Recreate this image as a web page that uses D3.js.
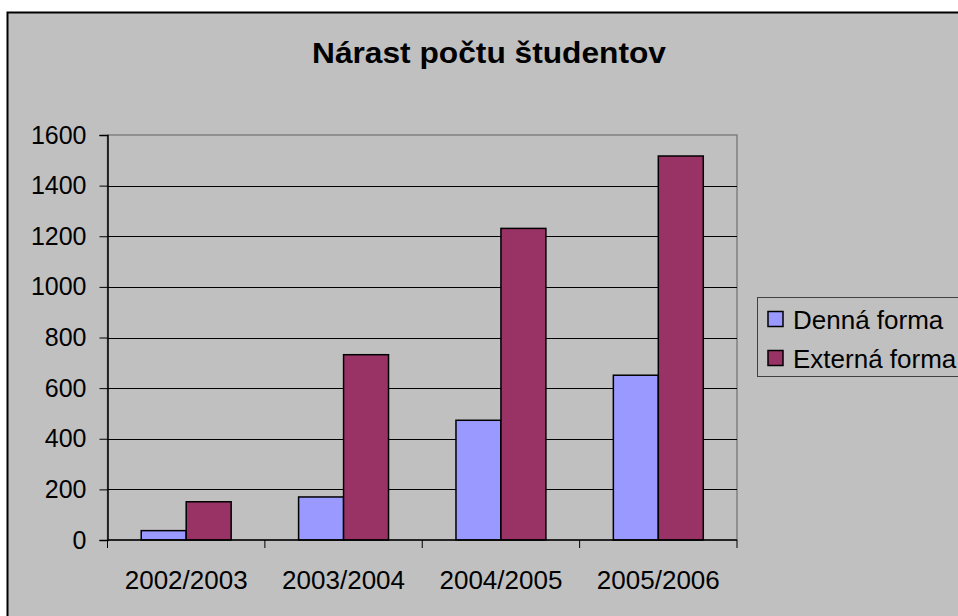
<!DOCTYPE html>
<html>
<head>
<meta charset="utf-8">
<script src="https://cdn.jsdelivr.net/npm/d3@7"></script>
<style>
  body { margin: 0; background: #fff; }
  svg { display: block; font-family: Arial, "Liberation Sans", sans-serif; }
</style>
</head>
<body>
<svg></svg>
<script>
// data
const years = ['2002/2003', '2003/2004', '2004/2005', '2005/2006']
const series = ['Denná forma', 'Externá forma']
const denna = [37, 170, 473, 651]
const externa = [151, 732, 1231, 1517]
const yTicks = [0, 200, 400, 600, 800, 1000, 1200, 1400, 1600]
const colors = ['#9999FF', '#993366']

const width = 958
const height = 616

const svg = d3.select('svg')
    .attr('width', width)
    .attr('height', height)

// chart area with black border (runs off right and bottom)
svg.append('rect')
    .attr('x', 7.5)
    .attr('y', 12.5)
    .attr('width', 1000)
    .attr('height', 700)
    .attr('fill', '#C0C0C0')
    .attr('stroke', '#000')
    .attr('stroke-width', 2)

svg.append('text')
    .attr('x', 489)
    .attr('y', 63)
    .attr('text-anchor', 'middle')
    .attr('font-size', 29)
    .attr('font-weight', 'bold')
    .attr('textLength', 354)
    .attr('lengthAdjust', 'spacingAndGlyphs')
    .text('Nárast počtu študentov')

const plot = { left: 107.5, right: 737, top: 135, bottom: 540 }

const x = d3.scaleBand()
    .domain(years)
    .range([plot.left, plot.right])
    .paddingInner(0)

const x1 = d3.scaleBand()
    .domain(series)
    .range([0, x.bandwidth()])
    .paddingOuter(0.75)
    .paddingInner(0)

const y = d3.scaleLinear()
    .domain([0, 1600])
    .range([plot.bottom, plot.top])

// plot frame
svg.append('rect')
    .attr('x', plot.left)
    .attr('y', plot.top)
    .attr('width', plot.right - plot.left)
    .attr('height', plot.bottom - plot.top)
    .attr('fill', 'none')
    .attr('stroke', '#808080')
    .attr('stroke-width', 1.5)

// gridlines
svg.append('g')
    .selectAll('line')
    .data(yTicks.filter(d => d > 0 && d < 1600))
    .enter()
    .append('line')
    .attr('x1', plot.left)
    .attr('x2', plot.right)
    .attr('y1', d => Math.round(y(d)) + 0.5)
    .attr('y2', d => Math.round(y(d)) + 0.5)
    .attr('stroke', '#000')

// bars
const rows = years.map((yr, i) => ({ year: yr, values: [denna[i], externa[i]] }))
const group = svg.append('g')
    .selectAll('g')
    .data(rows)
    .enter()
    .append('g')
    .attr('transform', d => `translate(${x(d.year)},0)`)

group.selectAll('rect')
    .data(d => d.values.map((v, j) => ({ key: series[j], value: v, j })))
    .enter()
    .append('rect')
    .attr('x', d => x1(d.key))
    .attr('y', d => y(d.value))
    .attr('width', x1.bandwidth())
    .attr('height', d => y(0) - y(d.value))
    .attr('fill', d => colors[d.j])
    .attr('stroke', '#000')
    .attr('stroke-width', 1.5)

// y axis
const yAxis = svg.append('g')
    .attr('transform', `translate(${plot.left},0)`)
    .call(d3.axisLeft(y).tickValues(yTicks).tickSize(8).tickPadding(13).tickFormat(d3.format('d')))
yAxis.select('.domain').attr('stroke', '#000').attr('stroke-width', 1.5)
yAxis.selectAll('.tick line').attr('stroke', '#000')
yAxis.selectAll('text')
    .attr('font-size', 25)
    .attr('font-family', 'Arial, "Liberation Sans", sans-serif')
    .attr('fill', '#000')

// x axis, ticks at category boundaries
const xAxis = svg.append('g')
    .attr('transform', `translate(0,${plot.bottom})`)
xAxis.append('line')
    .attr('x1', plot.left)
    .attr('x2', plot.right)
    .attr('stroke', '#000')
    .attr('stroke-width', 1.5)
xAxis.selectAll('.xt')
    .data(years.map(d => x(d)).concat([plot.right]))
    .enter()
    .append('line')
    .attr('x1', d => d)
    .attr('x2', d => d)
    .attr('y1', 0)
    .attr('y2', 8)
    .attr('stroke', '#000')
xAxis.selectAll('text')
    .data(years)
    .enter()
    .append('text')
    .attr('x', d => x(d) + x.bandwidth() / 2)
    .attr('y', 49)
    .attr('text-anchor', 'middle')
    .attr('font-size', 26)
    .text(d => d)

// legend
const legend = svg.append('g')
svg.append('rect')
    .attr('x', 757.5)
    .attr('y', 297.5)
    .attr('width', 260)
    .attr('height', 79)
    .attr('fill', 'none')
    .attr('stroke', '#404040')
    .attr('stroke-width', 1)
const item = legend.selectAll('g')
    .data(series)
    .enter()
    .append('g')
    .attr('transform', (d, i) => `translate(768,${311.5 + i * 39})`)
item.append('rect')
    .attr('width', 15)
    .attr('height', 15)
    .attr('fill', (d, i) => colors[i])
    .attr('stroke', '#000')
    .attr('stroke-width', 1.5)
item.append('text')
    .attr('x', 25)
    .attr('y', 17.5)
    .attr('font-size', 26)
    .text(d => d)
</script>
</body>
</html>
